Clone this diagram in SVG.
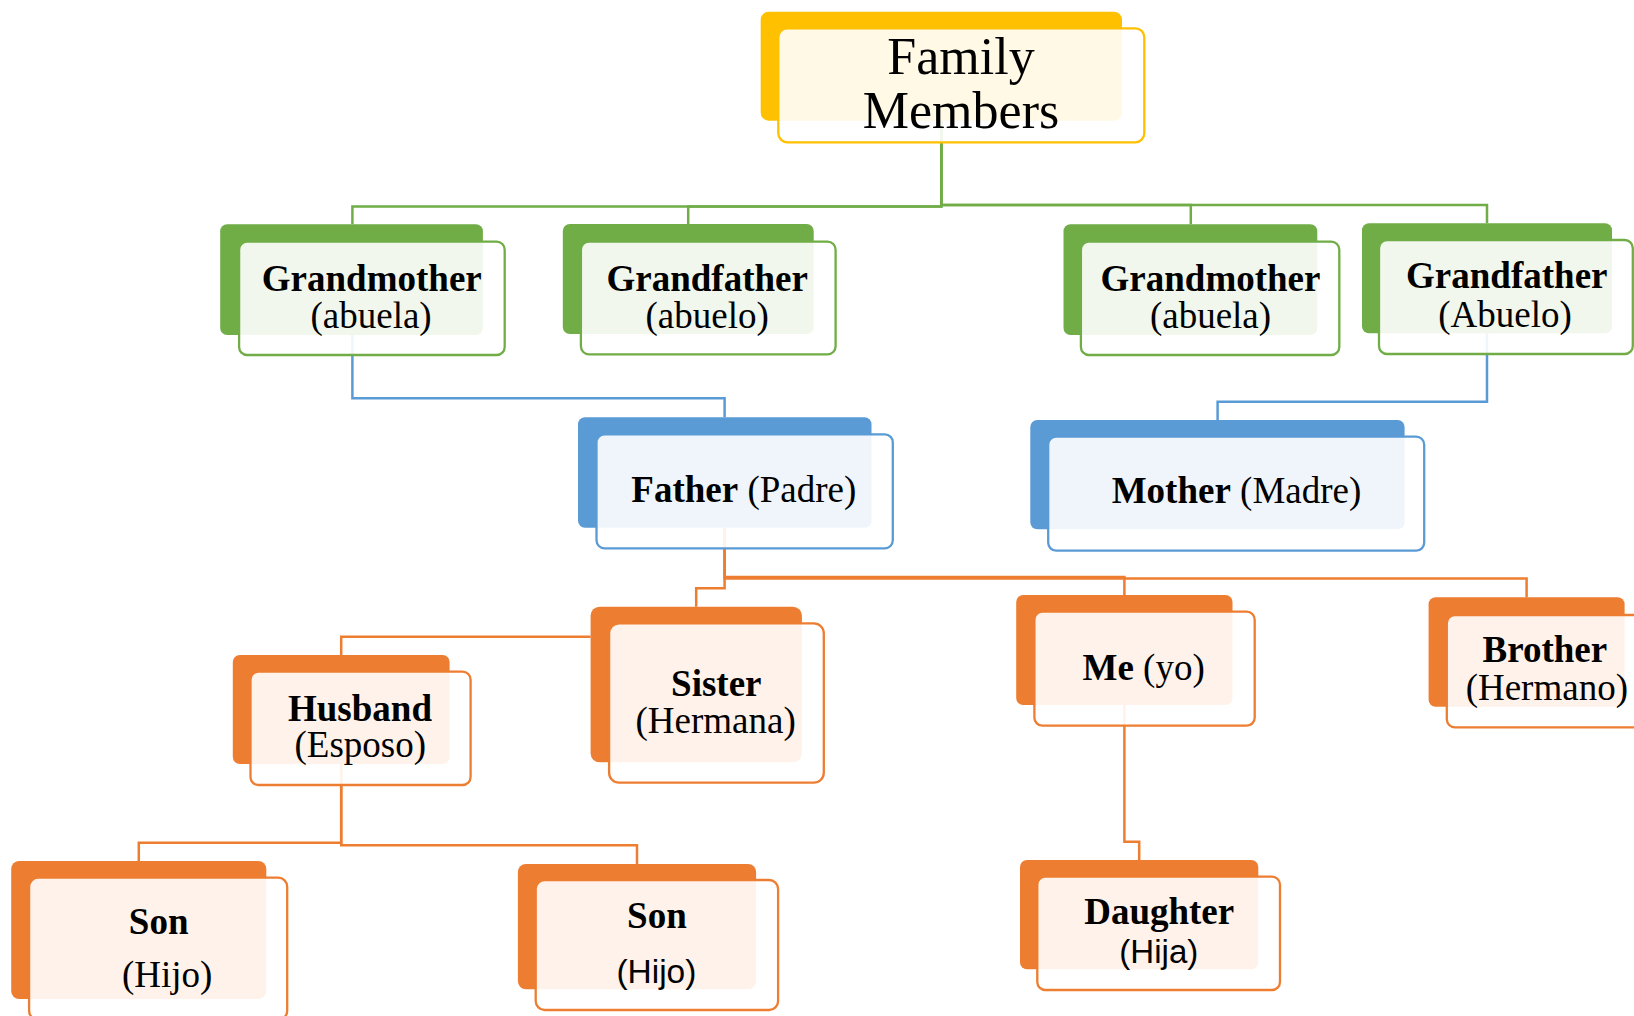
<svg xmlns="http://www.w3.org/2000/svg" width="1634" height="1016" viewBox="0 0 1634 1016">
<style>
.bk{stroke:none}
.fr{fill:#fff;fill-opacity:0.9;stroke-width:2.3}
.y .bk{fill:#FFC000}.y .fr{stroke:#FFC000}
.g .bk{fill:#70AD47}.g .fr{stroke:#70AD47}
.b .bk{fill:#5B9BD5}.b .fr{stroke:#5B9BD5}
.o .bk{fill:#ED7D31}.o .fr{stroke:#ED7D31}
text{font-family:"Liberation Serif","Times New Roman",serif;font-size:37px;fill:#000;text-anchor:middle}
.bd{font-weight:bold}
.sn{font-family:"Liberation Sans",Arial,sans-serif;font-size:33px}
.cn path{fill:none;stroke-width:2.5}
</style>
<g id="connectors" class="cn">
<path stroke="#70AD47" d="M941.3,120.7V206.5H352.4V224.3"/>
<path stroke="#70AD47" d="M941.3,120.7V206.5H688.2V224"/>
<path stroke="#70AD47" d="M941.3,120.7V205H1190.8V224.3"/>
<path stroke="#70AD47" d="M941.3,120.7V205H1487V223.3"/>
<path stroke="#5B9BD5" d="M352.4,335V398.3H724.6V417.3"/>
<path stroke="#5B9BD5" d="M1487,333.3V401.7H1217.6V420"/>
<path stroke="#ED7D31" d="M724.6,527.7V588.3H696.2V606.7"/>
<path stroke="#ED7D31" d="M724.6,527.7V577H1124.4V595"/>
<path stroke="#ED7D31" d="M724.6,527.7V578.5H1526.6V597.3"/>
<path stroke="#ED7D31" d="M590.6,636.7H341.2V655"/>
<path stroke="#ED7D31" d="M341.2,764V842.7H138.8V861"/>
<path stroke="#ED7D31" d="M341.2,764V845.3H637V864"/>
<path stroke="#ED7D31" d="M1124.4,705V841.7H1139.2V860"/>
</g>
<g id="family" class="y">
<rect class="bk" x="760.7" y="11.7" width="361.3" height="109" rx="8"/>
<rect class="fr" x="778.3" y="28.3" width="366" height="114" rx="9"/>
<text x="961" y="74" style="font-size:52px">Family</text>
<text x="961" y="128.3" style="font-size:52px">Members</text>
</g>
<g id="grandmother-l" class="g">
<rect class="bk" x="220.2" y="224.3" width="262.7" height="110.7" rx="7"/>
<rect class="fr" x="239.1" y="241.7" width="265.6" height="113.3" rx="8"/>
<text class="bd" x="371.8" y="290.7">Grandmother</text>
<text x="371.1" y="328.3">(abuela)</text>
</g>
<g id="grandfather-l" class="g">
<rect class="bk" x="562.8" y="224" width="250.9" height="110" rx="7"/>
<rect class="fr" x="580.9" y="241.7" width="254.7" height="112.6" rx="8"/>
<text class="bd" x="707.2" y="290.7">Grandfather</text>
<text x="707.2" y="328">(abuelo)</text>
</g>
<g id="grandmother-r" class="g">
<rect class="bk" x="1063.5" y="224.3" width="253.8" height="110.7" rx="7"/>
<rect class="fr" x="1080.9" y="241.7" width="258.4" height="113.3" rx="8"/>
<text class="bd" x="1210.5" y="290.7">Grandmother</text>
<text x="1210.5" y="328">(abuela)</text>
</g>
<g id="grandfather-r" class="g">
<rect class="bk" x="1362" y="223.3" width="250" height="110" rx="7"/>
<rect class="fr" x="1379" y="240" width="253.8" height="114" rx="8"/>
<text class="bd" x="1506.8" y="288.3">Grandfather</text>
<text x="1505" y="327">(Abuelo)</text>
</g>
<g id="father" class="b">
<rect class="bk" x="578" y="417.3" width="293.5" height="110.4" rx="7"/>
<rect class="fr" x="596.5" y="434.3" width="296.3" height="114" rx="8"/>
<text x="743.8" y="501.7"><tspan class="bd">Father</tspan> (Padre)</text>
</g>
<g id="mother" class="b">
<rect class="bk" x="1030.3" y="420" width="374.3" height="109.3" rx="7"/>
<rect class="fr" x="1048.2" y="436.7" width="376" height="114" rx="8"/>
<text x="1236.5" y="503.3"><tspan class="bd">Mother</tspan> (Madre)</text>
</g>
<g id="sister" class="o">
<rect class="bk" x="590.6" y="606.7" width="211.3" height="155.6" rx="9"/>
<rect class="fr" x="609.1" y="623.3" width="214.7" height="159.4" rx="10"/>
<text class="bd" x="716.3" y="695.7">Sister</text>
<text x="715.6" y="733.3">(Hermana)</text>
</g>
<g id="husband" class="o">
<rect class="bk" x="232.8" y="655" width="216.8" height="109" rx="7"/>
<rect class="fr" x="250.5" y="671.7" width="220.1" height="113.3" rx="8"/>
<text class="bd" x="360" y="720.7">Husband</text>
<text x="360.3" y="756.7">(Esposo)</text>
</g>
<g id="me" class="o">
<rect class="bk" x="1016.2" y="595" width="216.3" height="110" rx="7"/>
<rect class="fr" x="1034.4" y="611.7" width="220.3" height="114" rx="8"/>
<text x="1143.6" y="680"><tspan class="bd">Me</tspan> (yo)</text>
</g>
<g id="brother" class="o">
<rect class="bk" x="1428.6" y="597.3" width="196" height="109.4" rx="7"/>
<rect class="fr" x="1446.8" y="615" width="220" height="112.3" rx="8"/>
<text class="bd" x="1544.8" y="661.7">Brother</text>
<text x="1546.8" y="700">(Hermano)</text>
</g>
<g id="son-l" class="o">
<rect class="bk" x="11.2" y="861" width="255.1" height="138" rx="8"/>
<rect class="fr" x="29.1" y="877.7" width="258.1" height="142" rx="9"/>
<text class="bd" x="158.7" y="934">Son</text>
<text x="167.1" y="987.3">(Hijo)</text>
</g>
<g id="son-r" class="o">
<rect class="bk" x="517.9" y="864" width="238.2" height="125.3" rx="8"/>
<rect class="fr" x="535.7" y="880" width="242.4" height="130" rx="9"/>
<text class="bd" x="656.9" y="928.3">Son</text>
<text class="sn" x="656.4" y="983.3" textLength="80" lengthAdjust="spacingAndGlyphs">(Hijo)</text>
</g>
<g id="daughter" class="o">
<rect class="bk" x="1020" y="860" width="238.3" height="109.3" rx="7"/>
<rect class="fr" x="1037.3" y="876.7" width="242.7" height="113.3" rx="8"/>
<text class="bd" x="1159.2" y="924">Daughter</text>
<text class="sn" x="1158.8" y="963.3" textLength="79" lengthAdjust="spacingAndGlyphs">(Hija)</text>
</g>
</svg>
